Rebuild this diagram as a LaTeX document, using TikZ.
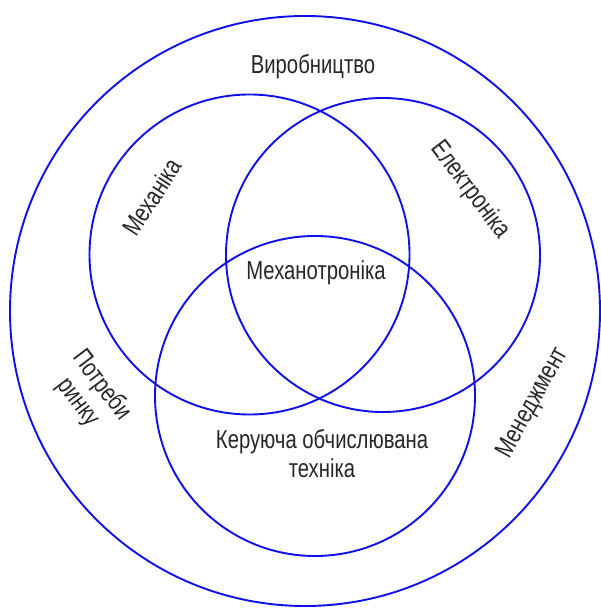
\documentclass[tikz,border=0pt]{standalone}
\usepackage{fontspec}
\setmainfont[FakeStretch=0.78]{Liberation Sans}
\usepackage{xcolor}
\definecolor{vennblue}{RGB}{15,15,235}

\begin{document}
\begin{tikzpicture}[x=1pt,y=1pt,
    ring/.style={draw=vennblue, line width=1.9pt},
    lbl/.style={font=\fontsize{26}{29}\selectfont, text=black!85, inner sep=0pt, align=center}]
  \useasboundingbox (0,0) rectangle (601,608);
  % circles
  \coordinate (world) at (305,297);
  \coordinate (mech) at (249.5,353.5);
  \coordinate (elec) at (383,353);
  \coordinate (comp) at (315,212);
  \draw[ring] (world) circle (295pt);
  \draw[ring] (mech) circle (160pt);
  \draw[ring] (elec) circle (157pt);
  \draw[ring] (comp) circle (160pt);
  % labels
  \node[lbl] (prod) at (313,541) {Виробництво};
  \node[lbl, rotate=57] (mechlbl) at (152,411) {Механіка};
  \node[lbl, rotate=-53] (eleclbl) at (470,418) {Електроніка};
  \node[lbl] (mtron) at (316,335) {Механотроніка};
  \node[lbl, rotate=-53] (market) at (90,214) {Потреби\\ринку};
  \node[lbl] (complbl) at (322,154) {Керуюча обчислювана\\техніка};
  \node[lbl, rotate=61] (mgmt) at (533,205) {Менеджмент};
\end{tikzpicture}
\end{document}
